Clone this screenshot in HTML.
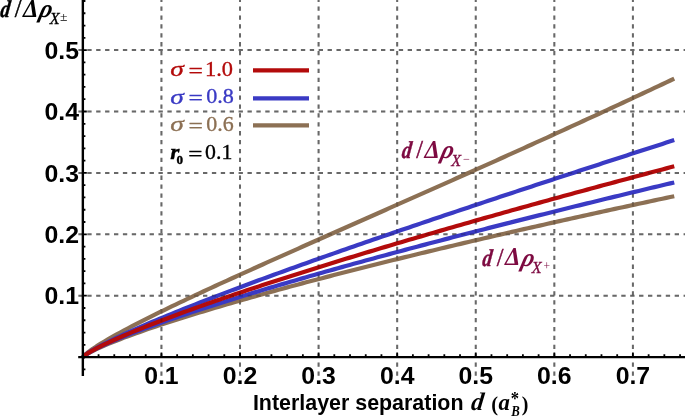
<!DOCTYPE html><html><head><meta charset="utf-8"><style>html,body{margin:0;padding:0;background:#fff}svg{display:block}</style></head><body><svg width="685" height="417" viewBox="0 0 685 417">
<rect width="685" height="417" fill="#fff"/>
<g stroke="#828282" stroke-width="2" stroke-dasharray="4.3 4.6" fill="none"><path d="M161.43,375.7 V-10"/><path d="M240.01,375.7 V-10"/><path d="M318.59,375.7 V-10"/><path d="M397.17,375.7 V-10"/><path d="M475.75,375.7 V-10"/><path d="M554.33,375.7 V-10"/><path d="M632.91,375.7 V-10"/><path d="M78.4,295.70 H700"/><path d="M78.4,234.30 H700"/><path d="M78.4,172.90 H700"/><path d="M78.4,111.50 H700"/><path d="M78.4,50.10 H700"/></g>
<path d="M83.00,357.00 L84.57,355.17 L88.53,351.88 L92.49,349.03 L96.44,346.40 L100.40,343.90 L104.36,341.50 L108.32,339.17 L112.27,336.90 L116.23,334.68 L120.19,332.51 L124.15,330.37 L128.10,328.27 L132.06,326.19 L136.02,324.13 L139.98,322.10 L143.93,320.09 L147.89,318.10 L151.85,316.13 L155.81,314.17 L159.76,312.22 L163.72,310.29 L167.68,308.37 L171.64,306.46 L175.59,304.57 L179.55,302.68 L183.51,300.80 L187.47,298.93 L191.43,297.06 L195.38,295.21 L199.34,293.36 L203.30,291.52 L207.26,289.68 L211.21,287.86 L215.17,286.03 L219.13,284.21 L223.09,282.40 L227.04,280.59 L231.00,278.78 L234.96,276.98 L238.92,275.18 L242.87,273.39 L246.83,271.60 L250.79,269.81 L254.75,268.03 L258.70,266.25 L262.66,264.47 L266.62,262.69 L270.58,260.92 L274.53,259.15 L278.49,257.38 L282.45,255.61 L286.41,253.84 L290.36,252.08 L294.32,250.31 L298.28,248.55 L302.24,246.79 L306.19,245.03 L310.15,243.27 L314.11,241.51 L318.07,239.76 L322.03,238.00 L325.98,236.25 L329.94,234.49 L333.90,232.74 L337.86,230.99 L341.81,229.23 L345.77,227.48 L349.73,225.73 L353.69,223.98 L357.64,222.22 L361.60,220.47 L365.56,218.72 L369.52,216.97 L373.47,215.21 L377.43,213.46 L381.39,211.71 L385.35,209.96 L389.30,208.20 L393.26,206.45 L397.22,204.69 L401.18,202.94 L405.13,201.18 L409.09,199.43 L413.05,197.67 L417.01,195.91 L420.96,194.16 L424.92,192.40 L428.88,190.64 L432.84,188.88 L436.79,187.11 L440.75,185.35 L444.71,183.59 L448.67,181.82 L452.63,180.06 L456.58,178.29 L460.54,176.52 L464.50,174.76 L468.46,172.98 L472.41,171.21 L476.37,169.44 L480.33,167.67 L484.29,165.89 L488.24,164.12 L492.20,162.34 L496.16,160.56 L500.12,158.78 L504.07,157.00 L508.03,155.21 L511.99,153.43 L515.95,151.64 L519.90,149.85 L523.86,148.06 L527.82,146.27 L531.78,144.48 L535.73,142.68 L539.69,140.89 L543.65,139.09 L547.61,137.29 L551.56,135.49 L555.52,133.68 L559.48,131.88 L563.44,130.07 L567.39,128.26 L571.35,126.45 L575.31,124.64 L579.27,122.82 L583.22,121.01 L587.18,119.19 L591.14,117.37 L595.10,115.54 L599.06,113.72 L603.01,111.89 L606.97,110.06 L610.93,108.23 L614.89,106.40 L618.84,104.57 L622.80,102.73 L626.76,100.89 L630.72,99.05 L634.67,97.21 L638.63,95.36 L642.59,93.51 L646.55,91.66 L650.50,89.81 L654.46,87.95 L658.42,86.10 L662.38,84.24 L666.33,82.38 L670.29,80.51 L674.25,78.65" fill="none" stroke="#8c7054" stroke-width="4.2" stroke-linejoin="round"/>
<path d="M83.00,357.00 L84.57,355.59 L88.53,353.14 L92.49,351.04 L96.44,349.12 L100.40,347.30 L104.36,345.57 L108.32,343.90 L112.27,342.28 L116.23,340.70 L120.19,339.17 L124.15,337.66 L128.10,336.18 L132.06,334.73 L136.02,333.30 L139.98,331.90 L143.93,330.51 L147.89,329.14 L151.85,327.79 L155.81,326.45 L159.76,325.13 L163.72,323.82 L167.68,322.53 L171.64,321.25 L175.59,319.98 L179.55,318.72 L183.51,317.47 L187.47,316.23 L191.43,315.00 L195.38,313.78 L199.34,312.57 L203.30,311.37 L207.26,310.17 L211.21,308.98 L215.17,307.81 L219.13,306.63 L223.09,305.47 L227.04,304.31 L231.00,303.16 L234.96,302.02 L238.92,300.88 L242.87,299.75 L246.83,298.62 L250.79,297.50 L254.75,296.38 L258.70,295.28 L262.66,294.17 L266.62,293.07 L270.58,291.98 L274.53,290.89 L278.49,289.81 L282.45,288.73 L286.41,287.65 L290.36,286.58 L294.32,285.52 L298.28,284.45 L302.24,283.40 L306.19,282.34 L310.15,281.29 L314.11,280.25 L318.07,279.21 L322.03,278.17 L325.98,277.14 L329.94,276.11 L333.90,275.08 L337.86,274.06 L341.81,273.04 L345.77,272.02 L349.73,271.01 L353.69,270.00 L357.64,268.99 L361.60,267.99 L365.56,266.99 L369.52,266.00 L373.47,265.00 L377.43,264.01 L381.39,263.02 L385.35,262.04 L389.30,261.06 L393.26,260.08 L397.22,259.10 L401.18,258.13 L405.13,257.16 L409.09,256.19 L413.05,255.23 L417.01,254.27 L420.96,253.31 L424.92,252.35 L428.88,251.39 L432.84,250.44 L436.79,249.49 L440.75,248.54 L444.71,247.60 L448.67,246.66 L452.63,245.72 L456.58,244.78 L460.54,243.84 L464.50,242.91 L468.46,241.98 L472.41,241.05 L476.37,240.12 L480.33,239.20 L484.29,238.28 L488.24,237.36 L492.20,236.44 L496.16,235.52 L500.12,234.61 L504.07,233.70 L508.03,232.79 L511.99,231.88 L515.95,230.97 L519.90,230.07 L523.86,229.17 L527.82,228.27 L531.78,227.37 L535.73,226.47 L539.69,225.58 L543.65,224.69 L547.61,223.80 L551.56,222.91 L555.52,222.02 L559.48,221.14 L563.44,220.25 L567.39,219.37 L571.35,218.49 L575.31,217.61 L579.27,216.74 L583.22,215.86 L587.18,214.99 L591.14,214.12 L595.10,213.25 L599.06,212.38 L603.01,211.51 L606.97,210.65 L610.93,209.78 L614.89,208.92 L618.84,208.06 L622.80,207.20 L626.76,206.35 L630.72,205.49 L634.67,204.64 L638.63,203.78 L642.59,202.93 L646.55,202.08 L650.50,201.24 L654.46,200.39 L658.42,199.54 L662.38,198.70 L666.33,197.86 L670.29,197.02 L674.25,196.18" fill="none" stroke="#8c7054" stroke-width="4.2" stroke-linejoin="round"/>
<path d="M83.00,357.00 L84.57,355.49 L88.53,352.70 L92.49,350.27 L96.44,348.02 L100.40,345.87 L104.36,343.80 L108.32,341.80 L112.27,339.85 L116.23,337.94 L120.19,336.08 L124.15,334.24 L128.10,332.43 L132.06,330.65 L136.02,328.89 L139.98,327.15 L143.93,325.43 L147.89,323.73 L151.85,322.04 L155.81,320.38 L159.76,318.72 L163.72,317.08 L167.68,315.45 L171.64,313.83 L175.59,312.23 L179.55,310.63 L183.51,309.04 L187.47,307.47 L191.43,305.90 L195.38,304.34 L199.34,302.79 L203.30,301.25 L207.26,299.71 L211.21,298.19 L215.17,296.67 L219.13,295.15 L223.09,293.65 L227.04,292.14 L231.00,290.65 L234.96,289.16 L238.92,287.68 L242.87,286.20 L246.83,284.72 L250.79,283.26 L254.75,281.79 L258.70,280.33 L262.66,278.88 L266.62,277.43 L270.58,275.98 L274.53,274.54 L278.49,273.11 L282.45,271.67 L286.41,270.24 L290.36,268.82 L294.32,267.40 L298.28,265.98 L302.24,264.56 L306.19,263.15 L310.15,261.74 L314.11,260.34 L318.07,258.93 L322.03,257.53 L325.98,256.14 L329.94,254.75 L333.90,253.36 L337.86,251.97 L341.81,250.58 L345.77,249.20 L349.73,247.82 L353.69,246.44 L357.64,245.07 L361.60,243.70 L365.56,242.33 L369.52,240.96 L373.47,239.59 L377.43,238.23 L381.39,236.87 L385.35,235.51 L389.30,234.15 L393.26,232.80 L397.22,231.45 L401.18,230.09 L405.13,228.75 L409.09,227.40 L413.05,226.05 L417.01,224.71 L420.96,223.37 L424.92,222.03 L428.88,220.69 L432.84,219.35 L436.79,218.02 L440.75,216.69 L444.71,215.35 L448.67,214.02 L452.63,212.70 L456.58,211.37 L460.54,210.04 L464.50,208.72 L468.46,207.40 L472.41,206.07 L476.37,204.75 L480.33,203.44 L484.29,202.12 L488.24,200.80 L492.20,199.49 L496.16,198.17 L500.12,196.86 L504.07,195.55 L508.03,194.24 L511.99,192.93 L515.95,191.62 L519.90,190.32 L523.86,189.01 L527.82,187.71 L531.78,186.40 L535.73,185.10 L539.69,183.80 L543.65,182.50 L547.61,181.20 L551.56,179.90 L555.52,178.60 L559.48,177.31 L563.44,176.01 L567.39,174.72 L571.35,173.43 L575.31,172.13 L579.27,170.84 L583.22,169.55 L587.18,168.26 L591.14,166.97 L595.10,165.68 L599.06,164.39 L603.01,163.11 L606.97,161.82 L610.93,160.54 L614.89,159.25 L618.84,157.97 L622.80,156.68 L626.76,155.40 L630.72,154.12 L634.67,152.84 L638.63,151.56 L642.59,150.28 L646.55,149.00 L650.50,147.72 L654.46,146.44 L658.42,145.17 L662.38,143.89 L666.33,142.61 L670.29,141.34 L674.25,140.06" fill="none" stroke="#3a3ac4" stroke-width="4.2" stroke-linejoin="round"/>
<path d="M83.00,357.00 L84.57,355.51 L88.53,352.91 L92.49,350.69 L96.44,348.65 L100.40,346.73 L104.36,344.89 L108.32,343.12 L112.27,341.40 L116.23,339.73 L120.19,338.09 L124.15,336.49 L128.10,334.92 L132.06,333.38 L136.02,331.86 L139.98,330.36 L143.93,328.89 L147.89,327.43 L151.85,325.99 L155.81,324.57 L159.76,323.16 L163.72,321.76 L167.68,320.38 L171.64,319.01 L175.59,317.66 L179.55,316.31 L183.51,314.98 L187.47,313.65 L191.43,312.34 L195.38,311.03 L199.34,309.74 L203.30,308.45 L207.26,307.17 L211.21,305.90 L215.17,304.63 L219.13,303.38 L223.09,302.13 L227.04,300.89 L231.00,299.65 L234.96,298.42 L238.92,297.20 L242.87,295.98 L246.83,294.77 L250.79,293.57 L254.75,292.37 L258.70,291.17 L262.66,289.99 L266.62,288.80 L270.58,287.62 L274.53,286.45 L278.49,285.28 L282.45,284.12 L286.41,282.96 L290.36,281.80 L294.32,280.65 L298.28,279.50 L302.24,278.36 L306.19,277.22 L310.15,276.09 L314.11,274.96 L318.07,273.83 L322.03,272.71 L325.98,271.59 L329.94,270.47 L333.90,269.36 L337.86,268.25 L341.81,267.14 L345.77,266.04 L349.73,264.94 L353.69,263.84 L357.64,262.75 L361.60,261.66 L365.56,260.57 L369.52,259.49 L373.47,258.41 L377.43,257.33 L381.39,256.25 L385.35,255.18 L389.30,254.11 L393.26,253.04 L397.22,251.98 L401.18,250.92 L405.13,249.86 L409.09,248.80 L413.05,247.75 L417.01,246.70 L420.96,245.65 L424.92,244.60 L428.88,243.56 L432.84,242.51 L436.79,241.47 L440.75,240.44 L444.71,239.40 L448.67,238.37 L452.63,237.34 L456.58,236.31 L460.54,235.28 L464.50,234.26 L468.46,233.23 L472.41,232.21 L476.37,231.19 L480.33,230.18 L484.29,229.16 L488.24,228.15 L492.20,227.14 L496.16,226.13 L500.12,225.12 L504.07,224.12 L508.03,223.12 L511.99,222.12 L515.95,221.12 L519.90,220.12 L523.86,219.12 L527.82,218.13 L531.78,217.14 L535.73,216.14 L539.69,215.16 L543.65,214.17 L547.61,213.18 L551.56,212.20 L555.52,211.22 L559.48,210.23 L563.44,209.25 L567.39,208.28 L571.35,207.30 L575.31,206.33 L579.27,205.35 L583.22,204.38 L587.18,203.41 L591.14,202.44 L595.10,201.48 L599.06,200.51 L603.01,199.55 L606.97,198.58 L610.93,197.62 L614.89,196.66 L618.84,195.70 L622.80,194.75 L626.76,193.79 L630.72,192.83 L634.67,191.88 L638.63,190.93 L642.59,189.98 L646.55,189.03 L650.50,188.08 L654.46,187.13 L658.42,186.19 L662.38,185.25 L666.33,184.30 L670.29,183.36 L674.25,182.42" fill="none" stroke="#3a3ac4" stroke-width="4.2" stroke-linejoin="round"/>
<path d="M83.00,357.00 L84.57,355.52 L88.53,352.85 L92.49,350.54 L96.44,348.41 L100.40,346.38 L104.36,344.44 L108.32,342.57 L112.27,340.74 L116.23,338.96 L120.19,337.22 L124.15,335.51 L128.10,333.83 L132.06,332.18 L136.02,330.55 L139.98,328.94 L143.93,327.36 L147.89,325.79 L151.85,324.24 L155.81,322.70 L159.76,321.18 L163.72,319.67 L167.68,318.18 L171.64,316.70 L175.59,315.23 L179.55,313.78 L183.51,312.33 L187.47,310.89 L191.43,309.47 L195.38,308.05 L199.34,306.64 L203.30,305.24 L207.26,303.85 L211.21,302.47 L215.17,301.10 L219.13,299.73 L223.09,298.37 L227.04,297.01 L231.00,295.67 L234.96,294.33 L238.92,292.99 L242.87,291.66 L246.83,290.34 L250.79,289.03 L254.75,287.72 L258.70,286.41 L262.66,285.11 L266.62,283.82 L270.58,282.53 L274.53,281.24 L278.49,279.96 L282.45,278.69 L286.41,277.42 L290.36,276.15 L294.32,274.89 L298.28,273.63 L302.24,272.38 L306.19,271.13 L310.15,269.88 L314.11,268.64 L318.07,267.40 L322.03,266.17 L325.98,264.94 L329.94,263.71 L333.90,262.49 L337.86,261.27 L341.81,260.05 L345.77,258.84 L349.73,257.63 L353.69,256.42 L357.64,255.22 L361.60,254.02 L365.56,252.82 L369.52,251.63 L373.47,250.44 L377.43,249.25 L381.39,248.07 L385.35,246.88 L389.30,245.71 L393.26,244.53 L397.22,243.36 L401.18,242.18 L405.13,241.02 L409.09,239.85 L413.05,238.69 L417.01,237.53 L420.96,236.37 L424.92,235.21 L428.88,234.06 L432.84,232.91 L436.79,231.76 L440.75,230.61 L444.71,229.47 L448.67,228.32 L452.63,227.19 L456.58,226.05 L460.54,224.91 L464.50,223.78 L468.46,222.65 L472.41,221.52 L476.37,220.39 L480.33,219.27 L484.29,218.14 L488.24,217.02 L492.20,215.91 L496.16,214.79 L500.12,213.67 L504.07,212.56 L508.03,211.45 L511.99,210.34 L515.95,209.23 L519.90,208.13 L523.86,207.02 L527.82,205.92 L531.78,204.82 L535.73,203.72 L539.69,202.63 L543.65,201.53 L547.61,200.44 L551.56,199.35 L555.52,198.26 L559.48,197.17 L563.44,196.08 L567.39,195.00 L571.35,193.91 L575.31,192.83 L579.27,191.75 L583.22,190.67 L587.18,189.60 L591.14,188.52 L595.10,187.45 L599.06,186.37 L603.01,185.30 L606.97,184.23 L610.93,183.17 L614.89,182.10 L618.84,181.03 L622.80,179.97 L626.76,178.91 L630.72,177.85 L634.67,176.79 L638.63,175.73 L642.59,174.67 L646.55,173.62 L650.50,172.56 L654.46,171.51 L658.42,170.46 L662.38,169.41 L666.33,168.36 L670.29,167.31 L674.25,166.27" fill="none" stroke="#b30b0b" stroke-width="4.2" stroke-linejoin="round"/>
<g stroke="#000" stroke-opacity="0.2" stroke-width="2" stroke-dasharray="4.3 4.6" fill="none"><path d="M161.43,375.7 V-10"/><path d="M240.01,375.7 V-10"/><path d="M318.59,375.7 V-10"/><path d="M397.17,375.7 V-10"/><path d="M475.75,375.7 V-10"/><path d="M554.33,375.7 V-10"/><path d="M632.91,375.7 V-10"/><path d="M78.4,295.70 H700"/><path d="M78.4,234.30 H700"/><path d="M78.4,172.90 H700"/><path d="M78.4,111.50 H700"/><path d="M78.4,50.10 H700"/></g>
<g stroke="#000" fill="none"><path d="M82.85,0 V376" stroke-width="2.4"/><path d="M78.2,357.1 H685" stroke-width="2.4"/><path d="M98.57,357.1 V354.3 M114.28,357.1 V354.3 M130.00,357.1 V354.3 M145.71,357.1 V354.3 M161.43,357.1 V352.6 M177.15,357.1 V354.3 M192.86,357.1 V354.3 M208.58,357.1 V354.3 M224.29,357.1 V354.3 M240.01,357.1 V352.6 M255.73,357.1 V354.3 M271.44,357.1 V354.3 M287.16,357.1 V354.3 M302.87,357.1 V354.3 M318.59,357.1 V352.6 M334.31,357.1 V354.3 M350.02,357.1 V354.3 M365.74,357.1 V354.3 M381.45,357.1 V354.3 M397.17,357.1 V352.6 M412.89,357.1 V354.3 M428.60,357.1 V354.3 M444.32,357.1 V354.3 M460.03,357.1 V354.3 M475.75,357.1 V352.6 M491.47,357.1 V354.3 M507.18,357.1 V354.3 M522.90,357.1 V354.3 M538.61,357.1 V354.3 M554.33,357.1 V352.6 M570.05,357.1 V354.3 M585.76,357.1 V354.3 M601.48,357.1 V354.3 M617.19,357.1 V354.3 M632.91,357.1 V352.6 M648.63,357.1 V354.3 M664.34,357.1 V354.3 M680.06,357.1 V354.3 M82.85,369.38 H85.4 M82.85,344.82 H85.4 M82.85,332.54 H85.4 M82.85,320.26 H85.4 M82.85,307.98 H85.4 M82.85,295.70 H86.8 M82.85,283.42 H85.4 M82.85,271.14 H85.4 M82.85,258.86 H85.4 M82.85,246.58 H85.4 M82.85,234.30 H86.8 M82.85,222.02 H85.4 M82.85,209.74 H85.4 M82.85,197.46 H85.4 M82.85,185.18 H85.4 M82.85,172.90 H86.8 M82.85,160.62 H85.4 M82.85,148.34 H85.4 M82.85,136.06 H85.4 M82.85,123.78 H85.4 M82.85,111.50 H86.8 M82.85,99.22 H85.4 M82.85,86.94 H85.4 M82.85,74.66 H85.4 M82.85,62.38 H85.4 M82.85,50.10 H86.8 M82.85,37.82 H85.4 M82.85,25.54 H85.4 M82.85,13.26 H85.4 M82.85,0.98 H85.4" stroke-width="1.8"/></g>
<g font-family="Liberation Sans, Arial, sans-serif" font-weight="bold" font-size="24.8" fill="#000">
<text x="161.4" y="383.9" text-anchor="middle">0.1</text>
<text x="240.0" y="383.9" text-anchor="middle">0.2</text>
<text x="318.6" y="383.9" text-anchor="middle">0.3</text>
<text x="397.2" y="383.9" text-anchor="middle">0.4</text>
<text x="475.8" y="383.9" text-anchor="middle">0.5</text>
<text x="554.3" y="383.9" text-anchor="middle">0.6</text>
<text x="632.9" y="383.9" text-anchor="middle">0.7</text>
<text x="79.0" y="304.3" text-anchor="end">0.1</text>
<text x="79.0" y="242.9" text-anchor="end">0.2</text>
<text x="79.0" y="181.5" text-anchor="end">0.3</text>
<text x="79.0" y="120.1" text-anchor="end">0.4</text>
<text x="79.0" y="58.7" text-anchor="end">0.5</text>
</g>
<g fill="#b30b0b" stroke="#b30b0b" stroke-width="0.35">
<text transform="translate(170.18,76.40) scale(1.249,0.940)" font-family="Liberation Serif, Times New Roman, serif" font-size="22" font-weight="normal" font-style="italic">σ</text>
<text transform="translate(188.62,77.90) scale(1.163,1.000)" font-family="Liberation Serif, Times New Roman, serif" font-size="22" font-weight="normal" font-style="normal">=</text>
<text transform="translate(204.98,76.00) scale(1.028,1.000)" font-family="Liberation Serif, Times New Roman, serif" font-size="21.8" font-weight="normal" font-style="normal">1.0</text>
</g>
<path d="M253,70.4 H309" stroke="#b30b0b" stroke-width="4.2" fill="none"/>
<g fill="#3a3ac4" stroke="#3a3ac4" stroke-width="0.35">
<text transform="translate(170.18,103.80) scale(1.249,0.940)" font-family="Liberation Serif, Times New Roman, serif" font-size="22" font-weight="normal" font-style="italic">σ</text>
<text transform="translate(188.62,105.30) scale(1.163,1.000)" font-family="Liberation Serif, Times New Roman, serif" font-size="22" font-weight="normal" font-style="normal">=</text>
<text transform="translate(206.21,103.40) scale(1.015,1.000)" font-family="Liberation Serif, Times New Roman, serif" font-size="21.8" font-weight="normal" font-style="normal">0.8</text>
</g>
<path d="M253,98.4 H309" stroke="#3a3ac4" stroke-width="4.2" fill="none"/>
<g fill="#8c7054" stroke="#8c7054" stroke-width="0.35">
<text transform="translate(170.18,131.30) scale(1.249,0.940)" font-family="Liberation Serif, Times New Roman, serif" font-size="22" font-weight="normal" font-style="italic">σ</text>
<text transform="translate(188.62,132.80) scale(1.163,1.000)" font-family="Liberation Serif, Times New Roman, serif" font-size="22" font-weight="normal" font-style="normal">=</text>
<text transform="translate(206.22,130.90) scale(1.007,1.000)" font-family="Liberation Serif, Times New Roman, serif" font-size="21.8" font-weight="normal" font-style="normal">0.6</text>
</g>
<path d="M253,125.3 H309" stroke="#8c7054" stroke-width="4.2" fill="none"/>
<g fill="#000" stroke="#000" stroke-width="0.35">
<text transform="translate(170.33,159.30) scale(1.091,1.000)" font-family="Liberation Serif, Times New Roman, serif" font-size="21.5" font-weight="bold" font-style="italic">r</text>
<text transform="translate(176.38,164.40) scale(1.139,1.000)" font-family="Liberation Serif, Times New Roman, serif" font-size="11.5" font-weight="bold" font-style="normal">0</text>
<text transform="translate(188.34,161.00) scale(1.144,1.000)" font-family="Liberation Serif, Times New Roman, serif" font-size="22" font-weight="normal" font-style="normal">=</text>
<text transform="translate(205.03,159.30) scale(1.001,1.000)" font-family="Liberation Serif, Times New Roman, serif" font-size="21.8" font-weight="normal" font-style="normal">0.1</text>
</g>
<g fill="#000" stroke="#000" stroke-width="0"><text transform="translate(-0.29,17.00) skewX(-7) scale(0.793,1.000)" font-family="Liberation Serif, Times New Roman, serif" font-size="24.2" font-weight="bold" font-style="italic" stroke-width="0.45">d</text><text transform="translate(15.77,17.00) scale(0.624,1.000)" font-family="Liberation Serif, Times New Roman, serif" font-size="25.8" font-weight="bold" font-style="italic" stroke-width="0.7">/</text><text transform="translate(22.96,16.80) scale(0.973,1.000)" font-family="Liberation Serif, Times New Roman, serif" font-size="25.2" font-weight="bold" font-style="italic">Δ</text><text transform="translate(38.31,17.00) skewX(-14) scale(0.955,1.000)" font-family="Liberation Serif, Times New Roman, serif" font-size="25.5" font-weight="bold" font-style="italic">ρ</text><text transform="translate(49.87,24.20) scale(0.997,1.000)" font-family="Liberation Serif, Times New Roman, serif" font-size="16.2" font-weight="normal" font-style="italic" stroke-width="0.3">X</text><text transform="translate(59.96,21.20) scale(1.178,1.000)" font-family="Liberation Serif, Times New Roman, serif" font-size="11.5" font-weight="normal" font-style="normal">±</text></g>
<g fill="#7d0a41" stroke="#7d0a41" stroke-width="0"><text transform="translate(401.21,158.40) skewX(-7) scale(0.793,1.000)" font-family="Liberation Serif, Times New Roman, serif" font-size="24.2" font-weight="bold" font-style="italic" stroke-width="0.45">d</text><text transform="translate(417.27,158.40) scale(0.624,1.000)" font-family="Liberation Serif, Times New Roman, serif" font-size="25.8" font-weight="bold" font-style="italic" stroke-width="0.7">/</text><text transform="translate(424.46,158.20) scale(0.973,1.000)" font-family="Liberation Serif, Times New Roman, serif" font-size="25.2" font-weight="bold" font-style="italic">Δ</text><text transform="translate(439.81,158.40) skewX(-14) scale(0.955,1.000)" font-family="Liberation Serif, Times New Roman, serif" font-size="25.5" font-weight="bold" font-style="italic">ρ</text><text transform="translate(451.37,165.60) scale(0.997,1.000)" font-family="Liberation Serif, Times New Roman, serif" font-size="16.2" font-weight="normal" font-style="italic" stroke-width="0.3">X</text><text transform="translate(462.89,162.90) scale(1.022,1.000)" font-family="Liberation Serif, Times New Roman, serif" font-size="12" font-weight="normal" font-style="normal">−</text></g>
<g fill="#7d0a41" stroke="#7d0a41" stroke-width="0"><text transform="translate(481.71,265.50) skewX(-7) scale(0.793,1.000)" font-family="Liberation Serif, Times New Roman, serif" font-size="24.2" font-weight="bold" font-style="italic" stroke-width="0.45">d</text><text transform="translate(497.77,265.50) scale(0.624,1.000)" font-family="Liberation Serif, Times New Roman, serif" font-size="25.8" font-weight="bold" font-style="italic" stroke-width="0.7">/</text><text transform="translate(504.96,265.30) scale(0.973,1.000)" font-family="Liberation Serif, Times New Roman, serif" font-size="25.2" font-weight="bold" font-style="italic">Δ</text><text transform="translate(520.31,265.50) skewX(-14) scale(0.955,1.000)" font-family="Liberation Serif, Times New Roman, serif" font-size="25.5" font-weight="bold" font-style="italic">ρ</text><text transform="translate(531.87,272.70) scale(0.997,1.000)" font-family="Liberation Serif, Times New Roman, serif" font-size="16.2" font-weight="normal" font-style="italic" stroke-width="0.3">X</text><text transform="translate(543.62,270.00) scale(1.010,1.000)" font-family="Liberation Serif, Times New Roman, serif" font-size="11.5" font-weight="normal" font-style="normal">+</text></g>
<text x="252.91" y="410.2" font-family="Liberation Sans, Arial, sans-serif" font-weight="bold" font-size="21.42" fill="#000">Interlayer separation</text>
<g fill="#000">
<text transform="translate(470.55,410.40) skewX(-7) scale(0.976,1.000)" font-family="Liberation Serif, Times New Roman, serif" font-size="25.4" font-weight="bold" font-style="italic">d</text>
<text transform="translate(491.18,410.50) scale(0.944,1.000)" font-family="Liberation Serif, Times New Roman, serif" font-size="21.6" font-weight="bold" font-style="normal">(</text>
<text transform="translate(498.57,410.40) scale(0.978,1.000)" font-family="Liberation Serif, Times New Roman, serif" font-size="23.3" font-weight="bold" font-style="italic">a</text>
<text transform="translate(510.75,405.00) scale(0.932,1.000)" font-family="Liberation Serif, Times New Roman, serif" font-size="17.8" font-weight="bold" font-style="normal">*</text>
<text transform="translate(511.13,416.20) scale(0.942,1.000)" font-family="Liberation Serif, Times New Roman, serif" font-size="13.6" font-weight="bold" font-style="italic">B</text>
<text transform="translate(521.80,410.50) scale(0.926,1.000)" font-family="Liberation Serif, Times New Roman, serif" font-size="21.6" font-weight="bold" font-style="normal">)</text>
</g>
</svg></body></html>
